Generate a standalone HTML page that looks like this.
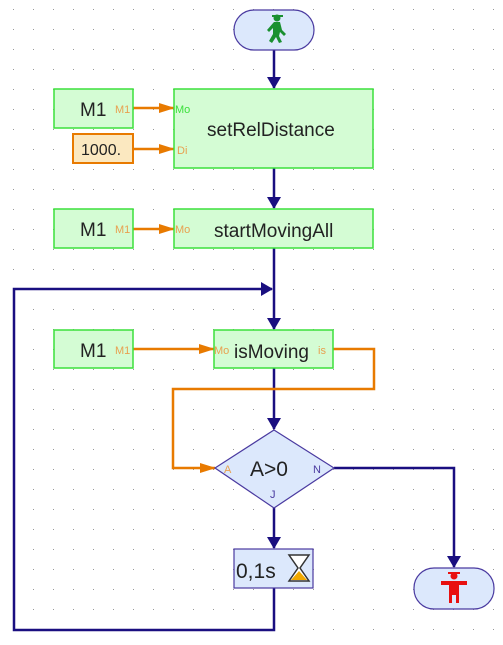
<!DOCTYPE html><html><head><style>body{margin:0;background:#fff}svg{display:block;font-family:"Liberation Sans",sans-serif}</style></head><body>
<svg width="503" height="645" viewBox="0 0 503 645">
<defs><pattern id="g" x="4" y="0" width="20" height="20" patternUnits="userSpaceOnUse"><rect x="9" y="9" width="1" height="1" fill="#999"/></pattern>
<marker id="ab" markerWidth="12" markerHeight="14" refX="11" refY="7" orient="auto" markerUnits="userSpaceOnUse"><path d="M0,0L12,7L0,14z" fill="#1a0f80"/></marker>
<marker id="ao" markerWidth="16" markerHeight="12" refX="15" refY="6" orient="auto" markerUnits="userSpaceOnUse"><path d="M0,1L16,6L0,11z" fill="#e87a00"/></marker></defs>
<rect width="503" height="645" fill="url(#g)"/>
<g stroke="#1a0f80" stroke-width="2.5" fill="none">
<line x1="274" y1="50" x2="274" y2="88" marker-end="url(#ab)"/>
<line x1="274" y1="168" x2="274" y2="208" marker-end="url(#ab)"/>
<line x1="274" y1="248" x2="274" y2="329" marker-end="url(#ab)"/>
<line x1="274" y1="368" x2="274" y2="429" marker-end="url(#ab)"/>
<line x1="274" y1="508" x2="274" y2="548" marker-end="url(#ab)"/>
<polyline points="274,588 274,630 14,630 14,289 272,289" marker-end="url(#ab)"/>
<polyline points="334,468 454,468 454,567" marker-end="url(#ab)"/>
</g>
<g stroke="#e87a00" stroke-width="2.5" fill="none">
<line x1="133" y1="108" x2="174" y2="108" marker-end="url(#ao)"/>
<line x1="133" y1="149" x2="174" y2="149" marker-end="url(#ao)"/>
<line x1="133" y1="229" x2="174" y2="229" marker-end="url(#ao)"/>
<line x1="133" y1="349" x2="214" y2="349" marker-end="url(#ao)"/>
<polyline points="333,349 374,349 374,389 173,389 173,468 215,468" marker-end="url(#ao)"/>
</g>
<g fill="#d4fcd4" stroke="#3ce03c" stroke-width="1.5">
<rect x="54" y="89" width="79" height="39"/><rect x="174" y="89" width="199" height="79"/>
<rect x="54" y="209" width="79" height="39"/><rect x="174" y="209" width="199" height="39"/>
<rect x="54" y="330" width="79" height="38"/><rect x="214" y="330" width="119" height="38"/>
</g>
<rect x="73" y="134" width="60" height="29" fill="#fbe8c0" stroke="#e87a00" stroke-width="2"/>
<g fill="#222" font-size="19">
<text x="80" y="116">M1</text><text x="80" y="236">M1</text><text x="80" y="357">M1</text>
<text x="207" y="136">setRelDistance</text><text x="214" y="237">startMovingAll</text><text x="234" y="358">isMoving</text>
<text x="81" y="155" font-size="16">1000.</text>
</g>
<g fill="#e8a050" font-size="11">
<text x="115" y="113">M1</text><text x="115" y="233">M1</text><text x="115" y="354">M1</text>
<text x="177" y="154">Di</text><text x="175" y="233">Mo</text><text x="214" y="354">Mo</text><text x="318" y="354">is</text>
</g>
<text x="175" y="113" fill="#3ce03c" font-size="11">Mo</text>
<polygon points="274,430 334,468 274,508 215,468" fill="#dce8fc" stroke="#4a3aa0" stroke-width="1.2"/>
<text x="250" y="476" font-size="21" fill="#222">A&gt;0</text>
<text x="224" y="473" fill="#e8a050" font-size="11">A</text>
<text x="313" y="473" fill="#4a3aa0" font-size="11">N</text>
<text x="270" y="498" fill="#4a3aa0" font-size="11">J</text>
<rect x="234" y="549" width="79" height="39" fill="#dce8fc" stroke="#4a3aa0" stroke-width="1.2"/>
<text x="236" y="578" font-size="21" fill="#222">0,1s</text>
<path d="M289,555h20l-9,13l9,13h-20l9,-13z" fill="#fff" stroke="#333" stroke-width="1.5"/>
<path d="M291,580h16l-8,-9z" fill="#f0a800"/>
<rect x="234" y="10" width="80" height="40" rx="20" fill="#dce8fc" stroke="#4a3aa0" stroke-width="1.2"/>
<g fill="#1a9030"><circle cx="277" cy="18" r="3.5"/><path d="M272,15h11v2h-11z"/><path d="M274,22l6,0l2,8l4,4l-2,2l-4,-4l-1,4l3,6l-3,1l-3,-6l-4,6l-3,-2l4,-7l0,-6l-4,4l-2,-2z"/></g>
<rect x="414" y="568" width="80" height="41" rx="20" fill="#dce8fc" stroke="#4a3aa0" stroke-width="1.2"/>
<g fill="#e81010"><circle cx="454" cy="576" r="3.5"/><path d="M448,572h12v2h-12z"/><path d="M441,581h26v4h-8v18h-3v-8h-4v8h-3v-18h-8z"/></g>
</svg></body></html>
